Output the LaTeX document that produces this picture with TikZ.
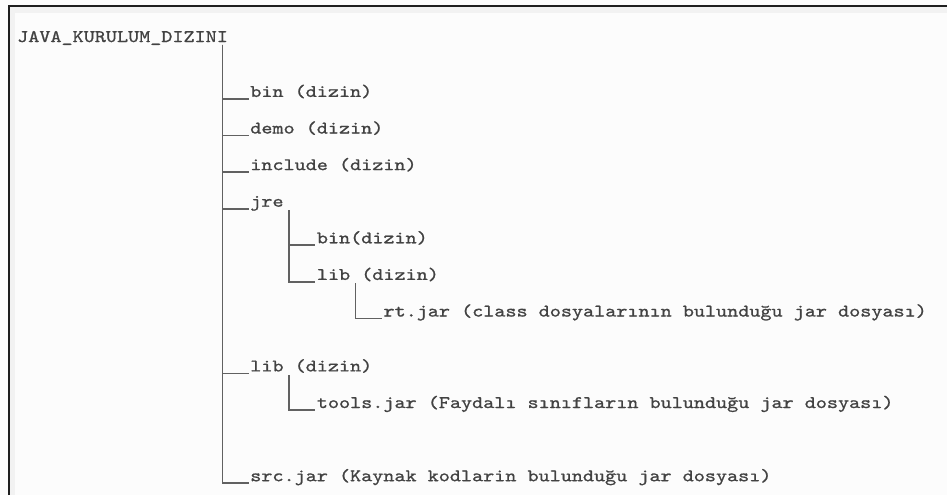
\documentclass[tikz,border=0pt]{standalone}
\usepackage{fontspec}
% typewriter face widened to a 11.1pt character cell
\newfontfamily\treemono{lmmono10-regular.otf}[FakeStretch=1.2,FakeBold=1.0]
\begin{document}
\begin{tikzpicture}[
  x=1pt, y=1pt,
  entry/.style={anchor=base west, inner sep=0pt, text=black!74,
    font=\treemono\fontsize{17.6}{18}\selectfont},
  tree/.style={draw=black!62, line width=1.7pt},
  frameline/.style={draw=black!88, line width=2pt}
]
% canvas
\useasboundingbox (0,0) rectangle (947,-495);
\fill[white!99!black] (0,0) rectangle (947,-495);

% window edge with a soft inner shade
\fill[black!5] (9.5,-7) rectangle (947,-13);
\fill[black!5] (9.5,-7) rectangle (15,-495);
\draw[frameline] (8.5,-495) -- (8.5,-6) -- (947,-6);

% entries (one column = 11.1pt, one row = 18.3pt)
\node[entry] (root)    at (17,-42)     {JAVA\_KURULUM\_DIZINI};
\node[entry] (bin)     at (250.1,-96.9)  {bin (dizin)};
\node[entry] (demo)    at (250.1,-133.5) {demo (dizin)};
\node[entry] (include) at (250.1,-170.1) {include (dizin)};
\node[entry] (jre)     at (250.1,-206.7) {jre};
\node[entry] (jrebin)  at (316.7,-243.3) {bin(dizin)};
\node[entry] (jrelib)  at (316.7,-279.9) {lib (dizin)};
\node[entry] (rtjar)   at (383.3,-316.5) {rt.jar (class dosyalarının bulunduğu jar dosyası)};
\node[entry] (lib)     at (250.1,-371.4) {lib (dizin)};
\node[entry] (tools)   at (316.7,-408.0) {tools.jar (Faydalı sınıfların bulunduğu jar dosyası)};
\node[entry] (src)     at (250.1,-481.2) {src.jar (Kaynak kodlarin bulunduğu jar dosyası)};

% tops of the vertical branches
\coordinate (rootbar)   at (222.35,-45);
\coordinate (jrebar)    at (288.95,-210);
\coordinate (jrelibbar) at (355.55,-283);
\coordinate (libbar)    at (288.95,-375);

% branches: a bar down from the parent, then an underscore to the child
\foreach \child in {bin,demo,include,jre,lib,src}
  \draw[tree] (rootbar) |- ([xshift=-1.5pt,yshift=-2pt]\child.base west);
\foreach \child in {jrebin,jrelib}
  \draw[tree] (jrebar) |- ([xshift=-1.5pt,yshift=-2pt]\child.base west);
\draw[tree] (jrelibbar) |- ([xshift=-1.5pt,yshift=-2pt]rtjar.base west);
\draw[tree] (libbar) |- ([xshift=-1.5pt,yshift=-2pt]tools.base west);
\end{tikzpicture}
\end{document}
